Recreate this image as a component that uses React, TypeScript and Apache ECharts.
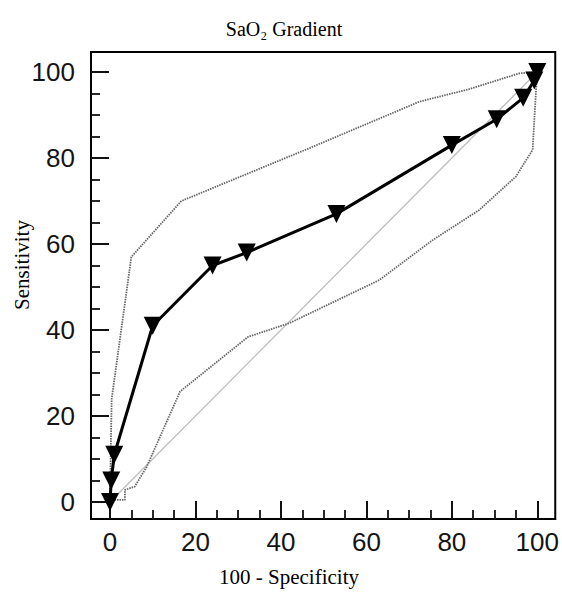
import React, { useEffect, useRef } from "react";
import * as echarts from "echarts";

// ---- data ----
const majorTicks = [0, 20, 40, 60, 80, 100];
const minorTicks = [5, 10, 15, 25, 30, 35, 45, 50, 55, 65, 70, 75, 85, 90, 95];

const rocCurve: [number, number][] = [
  [0, 0], [0.3, 5], [1, 11], [10, 41], [24, 55], [32, 58], [53, 67],
  [80, 83], [90.5, 89], [96.7, 94], [99.3, 98], [100, 100],
];
const upperCI: [number, number][] = [
  [0, 0], [0.2, 13], [0.4, 24], [5, 57], [16.7, 70], [46.7, 82.3],
  [72.4, 93.1], [84, 96], [95.8, 99.7], [100, 100],
];
const lowerCI: [number, number][] = [
  [0, 0], [1, 0.5], [3.5, 0.5], [3.5, 2.8], [5.8, 3.6], [8.6, 8.2],
  [16.4, 25.7], [32.3, 38.4], [42, 41.6], [63, 51.6], [75.5, 60.9],
  [86.4, 67.9], [95, 75.7], [98.9, 81.9], [99.7, 95.8], [100, 100],
];
const chanceLine: [number, number][] = [[0, 0], [100, 100]];

const titleText = "SaO\u2082 Gradient";
const xName = "100 - Specificity";
const yName = "Sensitivity";

const X_MIN = -4.44;
const X_MAX = 104.2;
const Y_MIN = -3.95;
const Y_MAX = 104.65;

export default function App() {
  const ref = useRef<HTMLDivElement>(null);

  useEffect(() => {
    document.body.style.margin = "0";
    if (!ref.current) return;
    const chart = echarts.init(ref.current, null, { renderer: "svg" });

    const labelStyle = {
      fontFamily: "Arial, 'Liberation Sans', sans-serif",
      fontSize: 26,
      color: "#141414",
    };
    const serif = "'Times New Roman', 'Liberation Serif', serif";

    const option: any = {
      animation: false,
      backgroundColor: "#ffffff",
      grid: {
        left: 91,
        top: 52,
        right: 6,
        bottom: 73,
        show: true,
        borderColor: "#000",
        borderWidth: 2,
        containLabel: false,
      },
      xAxis: [
        {
          type: "value",
          min: X_MIN,
          max: X_MAX,
          position: "bottom",
          axisLine: { show: true, onZero: false, lineStyle: { color: "#000", width: 2 } },
          axisTick: {
            show: true,
            inside: true,
            length: 18,
            customValues: majorTicks,
            lineStyle: { color: "#111", width: 2 },
          },
          axisLabel: { show: true, customValues: majorTicks, margin: 10, ...labelStyle },
          splitLine: { show: false },
        },
        {
          type: "value",
          min: X_MIN,
          max: X_MAX,
          position: "bottom",
          axisLine: { show: false, onZero: false },
          axisTick: {
            show: true,
            inside: true,
            length: 9,
            customValues: minorTicks,
            lineStyle: { color: "#111", width: 1.8 },
          },
          axisLabel: { show: false },
          splitLine: { show: false },
        },
      ],
      yAxis: [
        {
          type: "value",
          min: Y_MIN,
          max: Y_MAX,
          position: "left",
          axisLine: { show: true, onZero: false, lineStyle: { color: "#000", width: 2 } },
          axisTick: {
            show: true,
            inside: true,
            length: 18,
            customValues: majorTicks,
            lineStyle: { color: "#111", width: 2 },
          },
          axisLabel: { show: true, customValues: majorTicks, margin: 16, ...labelStyle },
          splitLine: { show: false },
        },
        {
          type: "value",
          min: Y_MIN,
          max: Y_MAX,
          position: "left",
          axisLine: { show: false, onZero: false },
          axisTick: {
            show: true,
            inside: true,
            length: 9,
            customValues: minorTicks,
            lineStyle: { color: "#111", width: 1.8 },
          },
          axisLabel: { show: false },
          splitLine: { show: false },
        },
      ],
      graphic: [
        {
          type: "text",
          x: 284,
          y: 29,
          style: {
            text: titleText,
            fontFamily: serif,
            fontSize: 20,
            fill: "#000",
            textAlign: "center",
            textVerticalAlign: "middle",
          },
        },
        {
          type: "text",
          x: 289,
          y: 577,
          style: {
            text: xName,
            fontFamily: serif,
            fontSize: 21,
            fill: "#000",
            textAlign: "center",
            textVerticalAlign: "middle",
          },
        },
        {
          type: "text",
          x: 22,
          y: 265,
          rotation: Math.PI / 2,
          style: {
            text: yName,
            fontFamily: serif,
            fontSize: 21,
            fill: "#000",
            textAlign: "center",
            textVerticalAlign: "middle",
          },
        },
      ],
      series: [
        {
          name: "Chance",
          type: "line",
          data: chanceLine,
          xAxisIndex: 0,
          yAxisIndex: 0,
          showSymbol: false,
          symbol: "none",
          lineStyle: { color: "#bdbdbd", width: 1.3 },
          z: 1,
        },
        {
          name: "Upper CI",
          type: "line",
          data: upperCI,
          xAxisIndex: 0,
          yAxisIndex: 0,
          symbol: "none",
          lineStyle: { color: "#666666", width: 1.8, type: [1.5, 1] },
          z: 2,
        },
        {
          name: "Lower CI",
          type: "line",
          data: lowerCI,
          xAxisIndex: 0,
          yAxisIndex: 0,
          symbol: "none",
          lineStyle: { color: "#666666", width: 1.8, type: [1.5, 1] },
          z: 2,
        },
        {
          name: "ROC",
          type: "line",
          data: rocCurve,
          xAxisIndex: 0,
          yAxisIndex: 0,
          symbol: "triangle",
          symbolRotate: 180,
          symbolSize: 18,
          showAllSymbol: true,
          clip: false,
          itemStyle: { color: "#000" },
          lineStyle: { color: "#000", width: 3 },
          z: 5,
        },
      ],
    };

    chart.setOption(option);
    return () => chart.dispose();
  }, []);

  return <div ref={ref} style={{ width: 562, height: 592 }} />;
}
